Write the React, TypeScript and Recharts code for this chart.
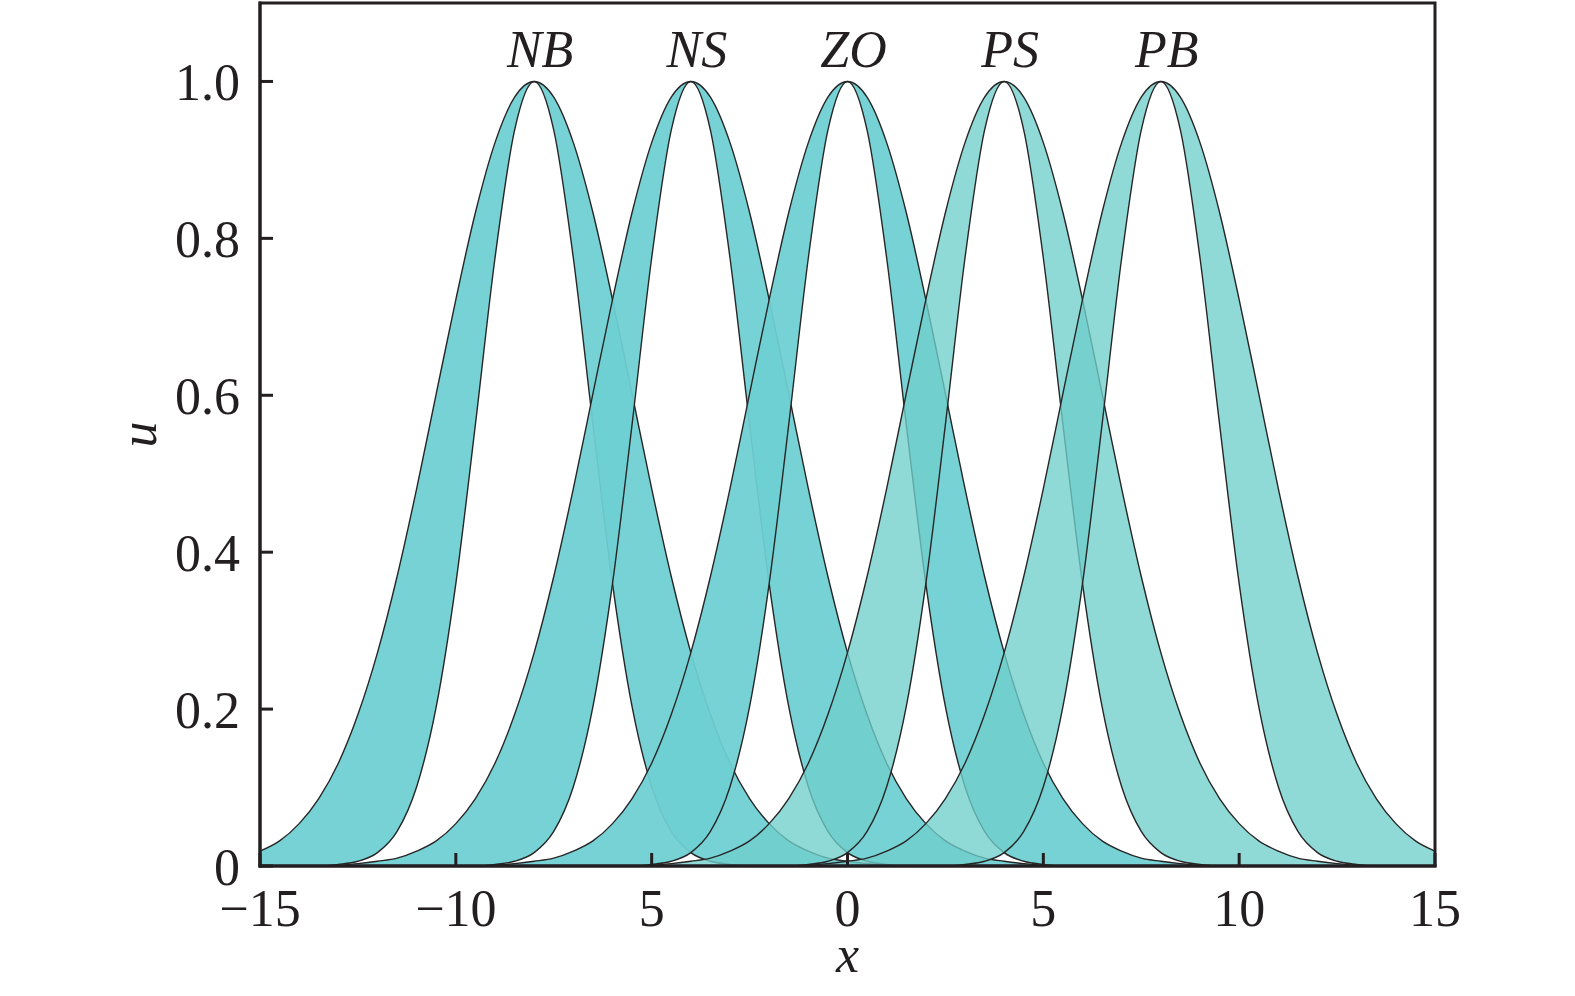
import React from 'react';
import { ComposedChart, Area, XAxis, YAxis, ReferenceDot, ReferenceArea, Label } from 'recharts';

const INK = '#231f20';
const FONT = '"Liberation Serif", "Times New Roman", Times, serif';

const SETS = ['NB', 'NS', 'ZO', 'PS', 'PB'];
const CENTERS = [-8, -4, 0, 4, 8];
const FILLS = ['#6fcfd2', '#6fcfd2', '#6fcfd2', '#6fcecc', '#6fcecc'];
const OPACITY = [0.94, 0.94, 0.94, 0.78, 0.78];

// distance from the centre of a set, with the upper and lower membership
const OFFSETS = [
  -9, -8.5, -8, -7.5, -7, -6.5, -6, -5.5, -5, -4.5, -4, -3.5, -3, -2.5, -2, -1.5, -1, -0.5,
  0, 0.5, 1, 1.5, 2, 2.5, 3, 3.5, 4, 4.5, 5, 5.5, 6, 6.5, 7, 7.5, 8, 8.5, 9,
];
const UPPER = [
  0.001, 0.003, 0.006, 0.01, 0.019, 0.032, 0.054, 0.086, 0.131, 0.193, 0.272, 0.369, 0.481, 0.602, 0.722, 0.833, 0.922, 0.98,
  1.0, 0.98, 0.922, 0.833, 0.722, 0.602, 0.481, 0.369, 0.272, 0.193, 0.131, 0.086, 0.054, 0.032, 0.019, 0.01, 0.006, 0.003, 0.001,
];
const LOWER = [
  0, 0, 0, 0, 0, 0, 0, 0, 0.002, 0.006, 0.017, 0.044, 0.101, 0.203, 0.36, 0.563, 0.775, 0.938,
  1.0, 0.938, 0.775, 0.563, 0.36, 0.203, 0.101, 0.044, 0.017, 0.006, 0.002, 0, 0, 0, 0, 0, 0, 0, 0,
];

const X_GRID = [
  -15, -14.5, -14, -13.5, -13, -12.5, -12, -11.5, -11, -10.5, -10, -9.5, -9, -8.5, -8, -7.5, -7, -6.5, -6, -5.5,
  -5, -4.5, -4, -3.5, -3, -2.5, -2, -1.5, -1, -0.5, 0, 0.5, 1, 1.5, 2, 2.5, 3, 3.5, 4, 4.5,
  5, 5.5, 6, 6.5, 7, 7.5, 8, 8.5, 9, 9.5, 10, 10.5, 11, 11.5, 12, 12.5, 13, 13.5, 14, 14.5, 15,
];

const X_TICKS = [-15, -10, -5, 0, 5, 10, 15];
const X_TICK_LABELS = ['\u221215', '\u221210', '5', '0', '5', '10', '15'];
const Y_TICKS = [0, 0.2, 0.4, 0.6, 0.8, 1.0];
const Y_TICK_LABELS = ['0', '0.2', '0.4', '0.6', '0.8', '1.0'];

const data = X_GRID.map((x) => {
  const row: Record<string, any> = { x };
  SETS.forEach((s, i) => {
    const k = OFFSETS.indexOf(x - CENTERS[i]);
    row[s] = k >= 0 ? [LOWER[k], UPPER[k]] : null;
  });
  return row;
});

const textStyle = { fontFamily: FONT, fontSize: 52, fill: INK };

const XTick = ({ x, y, payload }: any) => {
  const i = X_TICKS.indexOf(payload.value);
  return (
    <g>
      <line x1={x} y1={y} x2={x} y2={y - 13} stroke={INK} strokeWidth={3} />
      <text x={x} y={y + 60} textAnchor="middle" style={textStyle}>
        {X_TICK_LABELS[i]}
      </text>
    </g>
  );
};

const YTick = ({ x, y, payload }: any) => {
  const i = Y_TICKS.indexOf(payload.value);
  return (
    <g>
      <line x1={x} y1={y} x2={x + 13} y2={y} stroke={INK} strokeWidth={3} />
      <text x={x - 20} y={y + 19} textAnchor="end" style={textStyle}>
        {Y_TICK_LABELS[i]}
      </text>
    </g>
  );
};

const axisLine = { stroke: INK, strokeWidth: 3, strokeLinecap: 'square' as const };

export default function App() {
  return (
    <div style={{ position: 'absolute', left: 0, top: 0, width: 1575, height: 996, background: '#fff' }}>
      <ComposedChart width={1575} height={996} data={data} margin={{ top: 3, right: 140, bottom: 0, left: 0 }}>
        {SETS.map((s, i) => (
          <Area
            key={s}
            dataKey={s}
            type="monotone"
            fill={FILLS[i]}
            fillOpacity={OPACITY[i]}
            stroke="#262626"
            strokeWidth={1.4}
            dot={false}
            activeDot={false}
            isAnimationActive={false}
          />
        ))}
        <XAxis
          dataKey="x"
          type="number"
          domain={[-15, 15]}
          ticks={X_TICKS}
          height={130}
          tickSize={0}
          tickMargin={0}
          tickLine={false}
          axisLine={axisLine}
          tick={<XTick />}
          interval={0}
        >
          <Label value="x" position="insideBottom" offset={24} style={{ ...textStyle, fontStyle: 'italic' }} />
        </XAxis>
        <YAxis
          type="number"
          domain={[0, 1.1]}
          ticks={Y_TICKS}
          width={260}
          tickSize={0}
          tickMargin={0}
          tickLine={false}
          axisLine={axisLine}
          tick={<YTick />}
          interval={0}
        >
          <Label value="u" position="center" angle={-90} dx={8} style={{ ...textStyle, fontStyle: 'italic' }} />
        </YAxis>
        <ReferenceArea x1={-15} x2={15} y1={0} y2={1.1} fill="none" stroke={INK} strokeWidth={3} />
        {SETS.map((s, i) => (
          <ReferenceDot
            key={'label-' + s}
            x={CENTERS[i]}
            y={1}
            r={0}
            fill="none"
            stroke="none"
            label={{ value: s, position: 'top', offset: 14, dx: 6, style: { ...textStyle, fontStyle: 'italic' } }}
          />
        ))}
      </ComposedChart>
    </div>
  );
}
